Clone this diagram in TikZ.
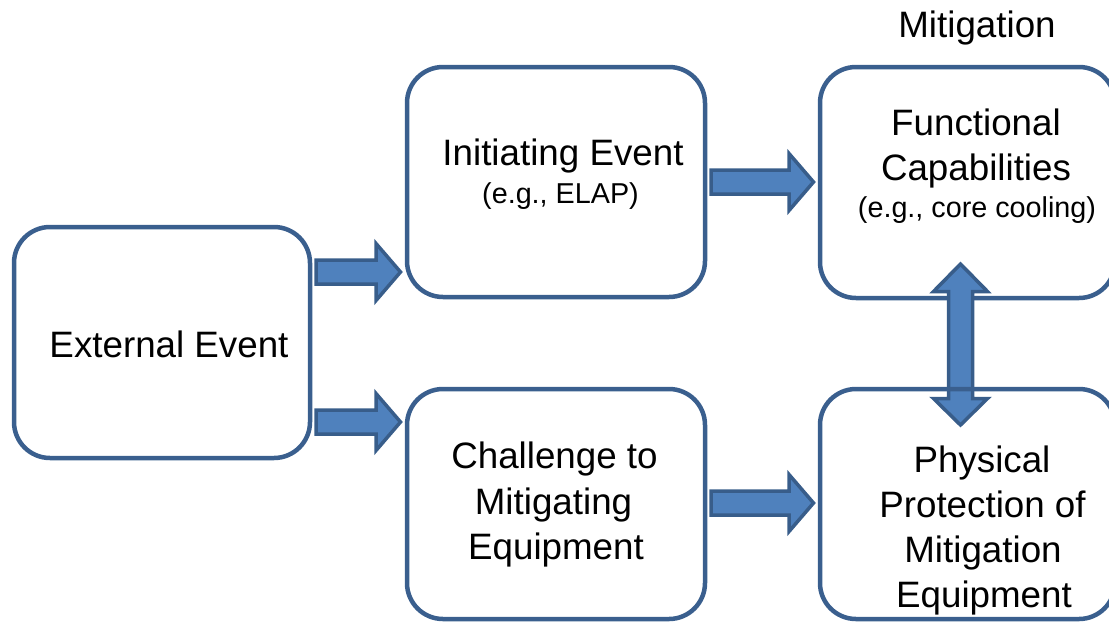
\documentclass[tikz,border=0pt]{standalone}
\usepackage{fontspec}
\setmainfont{Liberation Sans}
\usetikzlibrary{calc}

\definecolor{boxline}{HTML}{3A5F8E}
\definecolor{arrowfill}{HTML}{4F81BD}
\definecolor{arrowline}{HTML}{385D8A}

\tikzset{
  stagebox/.style={draw=boxline, line width=4.5pt, rounded corners=36pt,
    inner sep=0pt, outer sep=0pt},
  blockarrow/.style={fill=arrowfill, draw=arrowline, line width=3.5pt, line join=miter},
  bigtext/.style={font=\fontsize{36.75pt}{45pt}\selectfont, anchor=base, inner sep=0pt},
  smalltext/.style={font=\fontsize{28.75pt}{34pt}\selectfont, anchor=base, inner sep=0pt},
}

% right-pointing block arrow from a tail point (#1) to a head point (#2) on the same row
\newcommand\blockarrowright[2]{%
  \draw[blockarrow] ($(#1)+(6,-12)$) -- ($(#2)+(-31,-12)$) -- ($(#2)+(-31,-28.5)$)
    -- ($(#2)+(-6.5,0)$) -- ($(#2)+(-31,28.5)$) -- ($(#2)+(-31,12)$)
    -- ($(#1)+(6,12)$) -- cycle;}

\begin{document}
\begin{tikzpicture}[x=1pt, y=-1pt]
  \useasboundingbox (0,0) rectangle (1109,622);
  \clip (0,0) rectangle (1109,622);

  % stages
  \node[stagebox, minimum width=296pt, minimum height=231pt] (ext)  at (162,342.5) {};
  \node[stagebox, minimum width=298pt, minimum height=230pt] (init) at (556,182) {};
  \node[stagebox, minimum width=298pt, minimum height=230pt] (chal) at (556,504) {};
  \node[stagebox, minimum width=295pt, minimum height=231pt] (func) at (967.5,182.5) {};

  % rows of the horizontal arrows, column of the vertical one
  \coordinate (r1) at (0,272);
  \coordinate (r2) at (0,422);
  \coordinate (r3) at (0,182);
  \coordinate (r4) at (0,503);
  \coordinate (vx) at (960.5,0);

  \blockarrowright{ext.east |- r1}{init.west |- r1}
  \blockarrowright{ext.east |- r2}{chal.west |- r2}
  \blockarrowright{init.east |- r3}{func.west |- r3}
  \blockarrowright{chal.east |- r4}{func.west |- r4}

  % two-way arrow between the mitigation boxes
  \draw[blockarrow] ($(func.south -| vx)+(0,-34)$) -- ++(27,27.5) -- ++(-15,0)
    -- ++(0,107) -- ++(15,0) -- ++(-27,26.5) -- ++(-27,-26.5) -- ++(15,0)
    -- ++(0,-107) -- ++(-15,0) -- cycle;

  \node[stagebox, minimum width=295pt, minimum height=230pt] (phys) at (967.5,504) {};

  % texts
  \node[bigtext]   (ttl) at (977,37)    {Mitigation};
  \node[bigtext]   (f1)  at (976,135)   {Functional};
  \node[bigtext]   (f2)  at (976,180)   {Capabilities};
  \node[smalltext] (f3)  at (977,217)   {(e.g., core cooling)};
  \node[bigtext]   (e1)  at (169,357)   {External Event};
  \node[bigtext]   (i1)  at (563,165)   {Initiating Event};
  \node[smalltext] (i2)  at (560.5,203) {(e.g., ELAP)};
  \node[bigtext]   (c1)  at (554.5,468) {Challenge to};
  \node[bigtext]   (c2)  at (553.5,514) {Mitigating};
  \node[bigtext]   (c3)  at (556,559)   {Equipment};
  \node[bigtext]   (p1)  at (982,472)   {Physical};
  \node[bigtext]   (p2)  at (982.5,517) {Protection of};
  \node[bigtext]   (p3)  at (983,562)   {Mitigation};
  \node[bigtext]   (p4)  at (984,607)   {Equipment};
\end{tikzpicture}
\end{document}
